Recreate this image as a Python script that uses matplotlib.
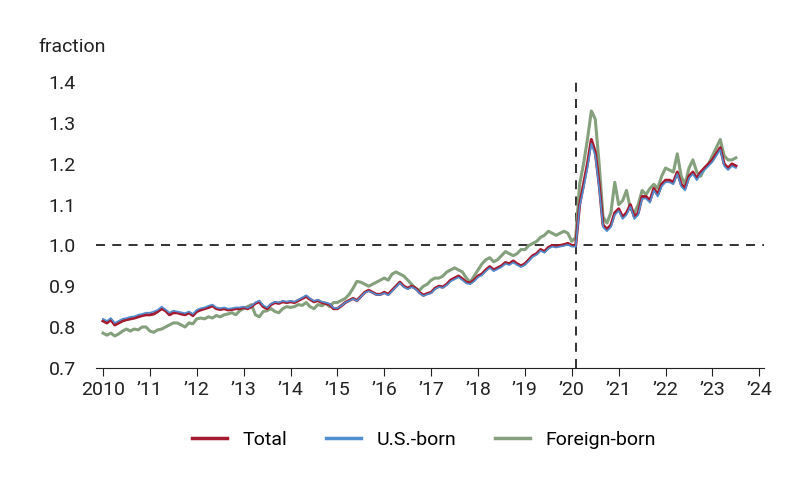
import matplotlib.pyplot as plt
import numpy as np

plt.rcParams["font.family"] = "Roboto"

start_year = 2010
total = [0.815,0.81,0.818,0.805,0.81,0.815,0.818,0.82,0.822,0.825,0.828,0.83,
         0.83,0.832,0.838,0.845,0.84,0.83,0.835,0.835,0.832,0.83,0.835,0.828,
         0.838,0.842,0.845,0.848,0.852,0.845,0.843,0.845,0.842,0.843,0.845,0.845,
         0.848,0.845,0.85,0.858,0.862,0.85,0.845,0.855,0.86,0.858,0.862,0.86,
         0.862,0.86,0.865,0.87,0.875,0.868,0.862,0.865,0.86,0.858,0.855,0.845,
         0.845,0.852,0.86,0.865,0.87,0.865,0.875,0.885,0.89,0.885,0.88,0.88,
         0.885,0.88,0.89,0.9,0.91,0.9,0.895,0.9,0.895,0.885,0.878,0.882,
         0.885,0.895,0.9,0.898,0.905,0.915,0.92,0.925,0.918,0.91,0.908,0.915,
         0.925,0.93,0.94,0.948,0.94,0.945,0.95,0.958,0.955,0.962,0.955,0.95,
         0.955,0.965,0.975,0.98,0.99,0.985,0.995,1.0,0.998,1.0,1.002,1.005,
         1.0,1.0,1.1,1.15,1.2,1.26,1.23,1.15,1.05,1.04,1.05,1.08,
         1.09,1.07,1.08,1.1,1.07,1.08,1.12,1.12,1.11,1.14,1.125,1.15,
         1.16,1.16,1.155,1.18,1.15,1.14,1.17,1.18,1.165,1.18,1.19,1.2,
         1.21,1.225,1.24,1.2,1.19,1.2,1.195]
us_born = [0.82,0.815,0.822,0.81,0.815,0.82,0.822,0.825,0.826,0.83,0.832,0.835,
           0.835,0.838,0.842,0.85,0.843,0.835,0.84,0.838,0.836,0.834,0.838,0.832,
           0.842,0.846,0.848,0.852,0.855,0.848,0.846,0.848,0.845,0.846,0.848,0.848,
           0.85,0.847,0.852,0.86,0.865,0.853,0.848,0.857,0.862,0.86,0.864,0.862,
           0.864,0.862,0.867,0.872,0.878,0.87,0.864,0.867,0.862,0.86,0.857,0.847,
           0.846,0.852,0.86,0.864,0.869,0.864,0.874,0.884,0.888,0.884,0.879,0.879,
           0.883,0.878,0.888,0.898,0.908,0.898,0.893,0.898,0.893,0.883,0.876,0.88,
           0.883,0.893,0.898,0.896,0.903,0.912,0.917,0.922,0.915,0.907,0.905,0.912,
           0.922,0.927,0.937,0.945,0.937,0.942,0.947,0.955,0.952,0.958,0.952,0.947,
           0.952,0.962,0.972,0.977,0.987,0.982,0.992,0.997,0.995,0.997,0.999,1.002,
           0.997,0.997,1.095,1.14,1.19,1.25,1.22,1.14,1.045,1.035,1.045,1.075,
           1.085,1.065,1.075,1.095,1.065,1.075,1.115,1.115,1.105,1.135,1.12,1.145,
           1.155,1.155,1.15,1.175,1.145,1.135,1.165,1.175,1.16,1.175,1.185,1.195,
           1.205,1.22,1.235,1.195,1.185,1.195,1.19]
foreign_born = [0.785,0.78,0.785,0.778,0.783,0.79,0.795,0.79,0.795,0.793,0.8,0.8,
                0.79,0.787,0.793,0.795,0.8,0.805,0.81,0.81,0.805,0.8,0.81,0.808,
                0.82,0.822,0.82,0.825,0.822,0.828,0.825,0.83,0.832,0.835,0.83,0.84,
                0.845,0.85,0.855,0.83,0.825,0.838,0.84,0.845,0.838,0.835,0.845,0.85,
                0.848,0.85,0.855,0.853,0.86,0.85,0.845,0.855,0.852,0.858,0.85,0.86,
                0.86,0.865,0.87,0.88,0.895,0.912,0.91,0.905,0.9,0.905,0.91,0.915,
                0.92,0.915,0.93,0.935,0.93,0.925,0.915,0.905,0.895,0.89,0.9,0.905,
                0.915,0.92,0.92,0.925,0.935,0.94,0.945,0.94,0.935,0.92,0.91,0.925,
                0.94,0.955,0.965,0.97,0.96,0.965,0.975,0.985,0.98,0.975,0.98,0.99,
                0.99,1.0,1.005,1.01,1.02,1.025,1.035,1.03,1.025,1.03,1.035,1.03,
                1.01,1.02,1.15,1.2,1.26,1.33,1.31,1.2,1.07,1.055,1.08,1.155,
                1.1,1.11,1.135,1.09,1.08,1.1,1.135,1.125,1.14,1.15,1.14,1.17,
                1.19,1.185,1.18,1.225,1.17,1.15,1.19,1.21,1.18,1.17,1.19,1.2,
                1.22,1.24,1.26,1.22,1.21,1.21,1.215]
year_ticks = list(range(2010, 2025))
year_labels = ["2010"] + ["\u2019%02d" % (y % 100) for y in year_ticks[1:]]

x = start_year + np.arange(len(total)) / 12

fig = plt.figure(figsize=(8, 4.82), dpi=100)
ax = fig.add_axes([0.12, 0.237, 0.835, 0.592])
ax.plot(x, foreign_born, color="#84a07c", lw=2.2, label="Foreign-born", zorder=2)
ax.plot(x, total, color="#a6192e", lw=2.2, label="Total", zorder=3)
ax.plot(x, us_born, color="#4f8fd0", lw=1.2, label="U.S.-born", zorder=4)
ax.axhline(1.0, color="#222222", ls=(0, (5, 4)), lw=1.3, zorder=1)
ax.axvline(2020.08, color="#222222", ls=(0, (5, 4)), lw=1.3, zorder=1)

ax.set_xlim(2009.85, 2024.1)
ax.set_ylim(0.7, 1.4)
yt = np.arange(0.7, 1.41, 0.1)
ax.set_yticks(yt)
ax.set_yticklabels(["%.1f" % v for v in yt])
ax.set_xticks(year_ticks)
ax.set_xticklabels(year_labels)
ax.tick_params(axis="both", labelsize=14, colors="#222222")
ax.tick_params(axis="y", length=0, pad=34)
for lab in ax.get_yticklabels():
    lab.set_horizontalalignment("left")
ax.tick_params(axis="x", length=6, direction="out")
for s in ["top", "right", "left"]:
    ax.spines[s].set_visible(False)
ax.spines["bottom"].set_color("#222222")
ax.text(38, 47, "fraction", transform=None, fontsize=14, color="#222222",
        va="center", ha="left")
# figure y from top: convert
ax.texts[-1].set_transform(fig.dpi_scale_trans)
ax.texts[-1].set_position((38 / 100, (482 - 47) / 100))

handles, labels = ax.get_legend_handles_labels()
order = [1, 2, 0]
fig.legend([handles[i] for i in order], [labels[i] for i in order], loc="center",
           bbox_to_anchor=(0.53, 1 - 440 / 482), ncol=3, frameon=False, fontsize=14,
           handlelength=1.8, columnspacing=2.0)
for h in fig.legends[0].get_lines():
    h.set_linewidth(2.5)

fig.savefig("out.png", dpi=100)
